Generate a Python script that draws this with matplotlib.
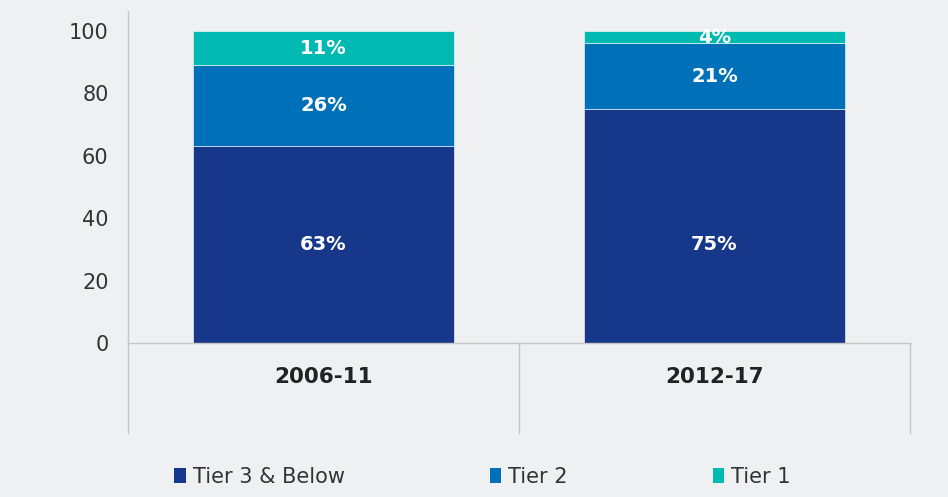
import matplotlib
matplotlib.use("Agg")
import matplotlib.pyplot as plt
from matplotlib.patches import Patch
import numpy as np

categories = ["2006-11", "2012-17"]
series_names = ["Tier 3 & Below", "Tier 2", "Tier 1"]
tier3 = [63, 75]
tier2 = [26, 21]
tier1 = [11, 4]
yticks = [0, 20, 40, 60, 80, 100]

colors = ["#17388a", "#0070b8", "#00b9b0"]
bg = "#eff0f2"

fig = plt.figure(figsize=(9.48, 4.97), dpi=100, facecolor=bg)
ax = fig.add_axes([128/948, 1-343/497, (910-128)/948, (343-11)/497])
ax.set_facecolor(bg)

x = np.arange(len(categories))
bottom = np.zeros(len(categories))
for i, (vals, col, name) in enumerate(zip([tier3, tier2, tier1], colors, series_names)):
    ax.bar(x, vals, width=0.665, bottom=bottom, color=col, label=name,
           edgecolor="white", linewidth=0.4)
    for xi, b, v in zip(x, bottom, vals):
        # bottom-series labels sit at a common height in the reference
        ypos = min(tier3) / 2 if i == 0 else b + v / 2
        ax.text(xi, ypos, f"{v}%", ha="center", va="center", color="white",
                fontsize=14, fontweight="bold")
    bottom += np.array(vals)

ax.set_xlim(-0.5, 1.5)
ax.set_ylim(0, 106.4)
ax.set_yticks(yticks)
ax.set_yticklabels([str(v) for v in yticks], fontsize=15, color="#333333")
ax.set_xticks(x)
ax.set_xticklabels(categories, fontsize=15.5, fontweight="bold", color="#222222")
ax.tick_params(axis="y", length=0, pad=14)
ax.tick_params(axis="x", length=0, pad=17)

for s in ["top", "right"]:
    ax.spines[s].set_visible(False)
for s in ["left", "bottom"]:
    ax.spines[s].set_color("#c6c6c6")
    ax.spines[s].set_linewidth(1.0)

# category separators extending below the axis
sep_depth = (433-343)/(343-11)
for xa in [0.0, 0.5, 1.0]:
    ax.plot([xa, xa], [0, -sep_depth], transform=ax.transAxes, color="#c6c6c6",
            linewidth=1.0, clip_on=False)

handles = [Patch(facecolor=c, label=n) for c, n in zip(colors, series_names)]
leg = fig.legend(handles=handles, loc="center", bbox_to_anchor=(0.509, 1-477/497),
                 ncol=3, frameon=False, fontsize=15, handlelength=0.55, handleheight=0.75,
                 handletextpad=0.35, columnspacing=6.95, labelcolor="#333333")

fig.savefig("out.png", dpi=100, facecolor=bg)
